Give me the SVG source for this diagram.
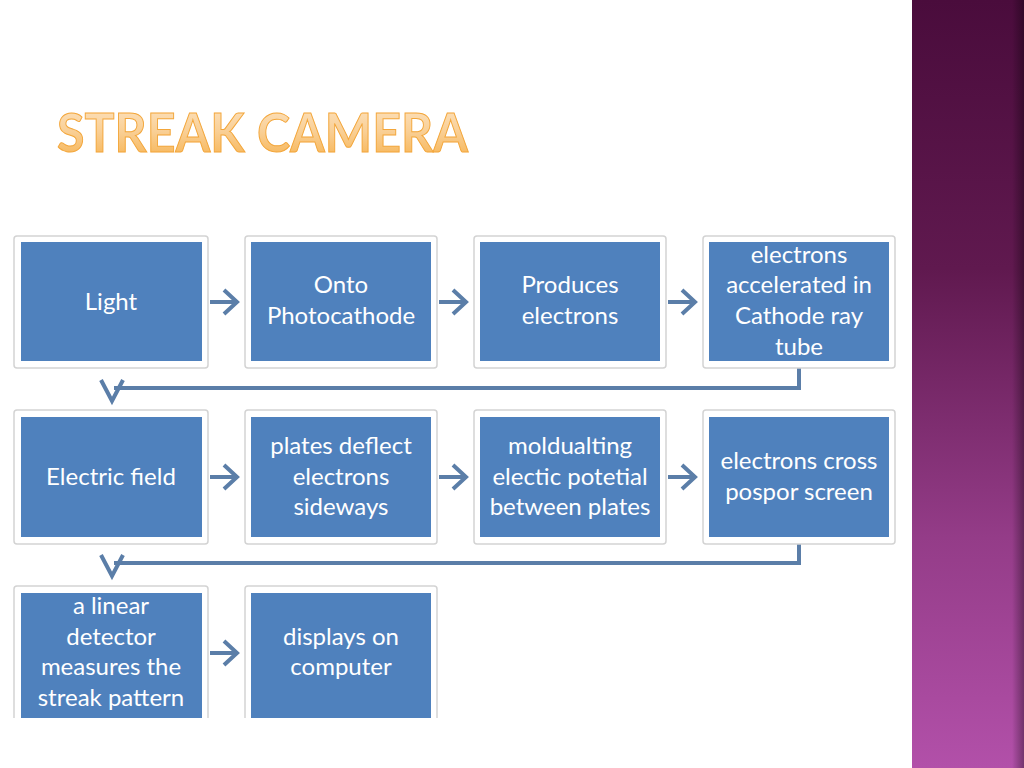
<svg xmlns="http://www.w3.org/2000/svg" width="1024" height="768" viewBox="0 0 1024 768">
<defs>
<linearGradient id="side" x1="0" y1="0" x2="0" y2="1">
<stop offset="0" stop-color="#4a0c3c"/>
<stop offset="0.35" stop-color="#60194f"/>
<stop offset="0.7" stop-color="#943c88"/>
<stop offset="1" stop-color="#b250a9"/>
</linearGradient>
<linearGradient id="edge" x1="0" y1="0" x2="1" y2="0">
<stop offset="0" stop-color="#000" stop-opacity="0"/>
<stop offset="1" stop-color="#000" stop-opacity="0.35"/>
</linearGradient>
<linearGradient id="title" x1="0" y1="0" x2="0" y2="1">
<stop offset="0" stop-color="#fde6c8"/>
<stop offset="0.5" stop-color="#f9cf95"/>
<stop offset="1" stop-color="#f6b04a"/>
</linearGradient>
<style>
.frame{fill:#fff;stroke:#d3d3d3;stroke-width:1.5}
.box{fill:#4f81bd}
.lbl{font-family:Lato,"Open Sans","Liberation Sans",sans-serif;font-size:24px;fill:#fff;text-anchor:middle}
.arr{fill:none;stroke:#5b7ea8;stroke-width:4;stroke-linejoin:miter}
.conn{fill:none;stroke:#5b7ea8;stroke-width:4}
</style>
</defs>
<rect width="1024" height="768" fill="#fff"/>
<rect x="912" y="0" width="112" height="768" fill="url(#side)"/>
<rect x="1012" y="0" width="12" height="768" fill="url(#edge)"/>
<text x="57" y="152" font-family="Lato,'Open Sans','Liberation Sans',sans-serif" font-size="54" font-weight="bold" textLength="411" lengthAdjust="spacingAndGlyphs" fill="url(#title)" stroke="#f3a63a" stroke-width="1">STREAK CAMERA</text>

<g id="connectors">
<path class="arr" d="M210 302 H236 M224 290 L237 302 L224 314"/>
<path class="arr" d="M439 302 H465 M453 290 L466 302 L453 314"/>
<path class="arr" d="M668 302 H694 M682 290 L695 302 L682 314"/>
<path class="arr" d="M210 477 H236 M224 465 L237 477 L224 489"/>
<path class="arr" d="M439 477 H465 M453 465 L466 477 L453 489"/>
<path class="arr" d="M668 477 H694 M682 465 L695 477 L682 489"/>
<path class="arr" d="M210 653 H236 M224 641 L237 653 L224 665"/>
<path class="conn" d="M799 368 V388 H114"/>
<path class="arr" d="M101 380 L112 401 L123 380"/>
<path class="conn" d="M799 544 V563 H114"/>
<path class="arr" d="M101 555 L112 576 L123 555"/>
</g>

<g id="n1"><rect class="frame" x="14" y="236" width="194" height="132" rx="3"/><rect class="box" x="21" y="242" width="181" height="119"/><text class="lbl" x="111" y="310">Light</text></g>
<g id="n2"><rect class="frame" x="245" y="236" width="192" height="132" rx="3"/><rect class="box" x="251" y="242" width="180" height="119"/><text class="lbl" x="341" y="293">Onto</text><text class="lbl" x="341" y="324">Photocathode</text></g>
<g id="n3"><rect class="frame" x="474" y="236" width="192" height="132" rx="3"/><rect class="box" x="480" y="242" width="180" height="119"/><text class="lbl" x="570" y="293">Produces</text><text class="lbl" x="570" y="324">electrons</text></g>
<g id="n4"><rect class="frame" x="703" y="236" width="192" height="132" rx="3"/><rect class="box" x="709" y="242" width="180" height="119"/><text class="lbl" x="799" y="263">electrons</text><text class="lbl" x="799" y="293">accelerated in</text><text class="lbl" x="799" y="324">Cathode ray</text><text class="lbl" x="799" y="355">tube</text></g>

<g id="n5"><rect class="frame" x="14" y="410" width="194" height="134" rx="3"/><rect class="box" x="21" y="417" width="181" height="120"/><text class="lbl" x="111" y="485">Electric field</text></g>
<g id="n6"><rect class="frame" x="245" y="410" width="192" height="134" rx="3"/><rect class="box" x="251" y="417" width="180" height="120"/><text class="lbl" x="341" y="454">plates deflect</text><text class="lbl" x="341" y="485">electrons</text><text class="lbl" x="341" y="515">sideways</text></g>
<g id="n7"><rect class="frame" x="474" y="410" width="192" height="134" rx="3"/><rect class="box" x="480" y="417" width="180" height="120"/><text class="lbl" x="570" y="454">moldualting</text><text class="lbl" x="570" y="485">electic potetial</text><text class="lbl" x="570" y="515">between plates</text></g>
<g id="n8"><rect class="frame" x="703" y="410" width="192" height="134" rx="3"/><rect class="box" x="709" y="417" width="180" height="120"/><text class="lbl" x="799" y="469">electrons cross</text><text class="lbl" x="799" y="500">pospor screen</text></g>

<g id="n9"><rect class="frame" x="14" y="586" width="194" height="140" rx="3"/><rect class="box" x="21" y="593" width="181" height="125"/><text class="lbl" x="111" y="614">a linear</text><text class="lbl" x="111" y="645">detector</text><text class="lbl" x="111" y="675">measures the</text><text class="lbl" x="111" y="706">streak pattern</text></g>
<g id="n10"><rect class="frame" x="245" y="586" width="192" height="140" rx="3"/><rect class="box" x="251" y="593" width="180" height="125"/><text class="lbl" x="341" y="645">displays on</text><text class="lbl" x="341" y="675">computer</text></g>
<rect x="0" y="718" width="912" height="50" fill="#fff"/>
</svg>
